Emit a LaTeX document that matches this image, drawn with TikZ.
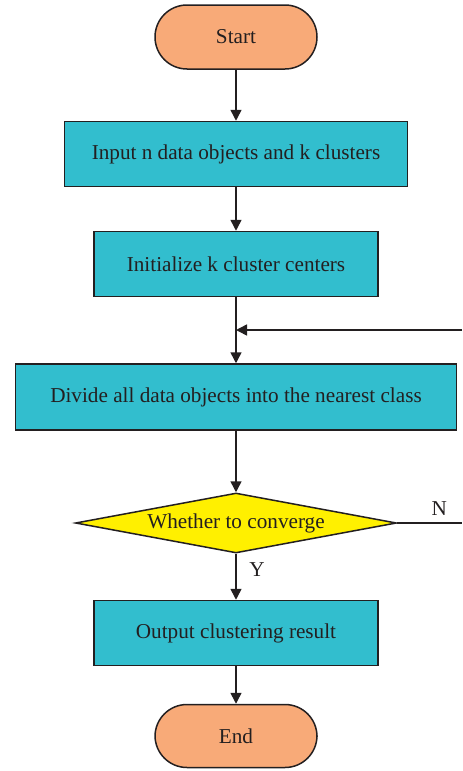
\documentclass[tikz,border=0pt]{standalone}
\usepackage{fontspec}
\setmainfont{Liberation Serif}
\usetikzlibrary{positioning,shapes.geometric,arrows.meta}
\definecolor{boxcyan}{RGB}{50,190,206}
\definecolor{termorange}{RGB}{248,170,120}
\definecolor{decyellow}{RGB}{255,240,0}
\definecolor{inkgray}{RGB}{35,31,32}

\begin{document}
\begin{tikzpicture}[x=0.5pt, y=-0.5pt, line width=0.75pt, draw=inkgray,
  every node/.style={font=\fontsize{10.6}{12}\selectfont, text=inkgray},
  proc/.style={draw=inkgray, fill=boxcyan, minimum height=32.5pt, inner sep=0pt},
  term/.style={draw=inkgray, fill=termorange, rounded corners=16pt, minimum width=81pt, minimum height=32pt},
  decide/.style={draw=inkgray, fill=decyellow, diamond, shape aspect=5.35, inner sep=0pt, minimum width=160.5pt, minimum height=30pt},
  flow/.style={-{Triangle[length=5.5pt, width=5.5pt]}, inkgray}]
\useasboundingbox (0,0) rectangle (462,771);
\node[term] (start) at (236,37) {Start};
\node[proc, minimum width=171.5pt] (input) at (236,154) {Input n data objects and k clusters};
\node[proc, minimum width=142pt] (init) at (236,264) {Initialize k cluster centers};
\node[proc, minimum width=220.5pt, minimum height=33pt] (divide) at (236,397) {Divide all data objects into the nearest class};
\node[decide] (conv) at (236,523) {Whether to converge};
\node[proc, minimum width=142pt] (output) at (236,633) {Output clustering result};
\node[term, minimum height=31.5pt] (end) at (236,736) {End};
\coordinate (back) at (462,330);
\coordinate (noedge) at (462,523);
\draw[flow] (start) -- (input);
\draw[flow] (input) -- (init);
\draw[flow] (init) -- (divide);
\draw[flow] (divide) -- (conv);
\draw[flow] (conv) -- node[pos=0.35, right=3pt] {Y} (output);
\draw[flow] (output) -- (end);
% loop back from the N branch
\draw (conv.east) -- node[pos=0.65, above] {N} (noedge);
\draw[flow] (back) -- (back -| init.south);
\end{tikzpicture}
\end{document}
